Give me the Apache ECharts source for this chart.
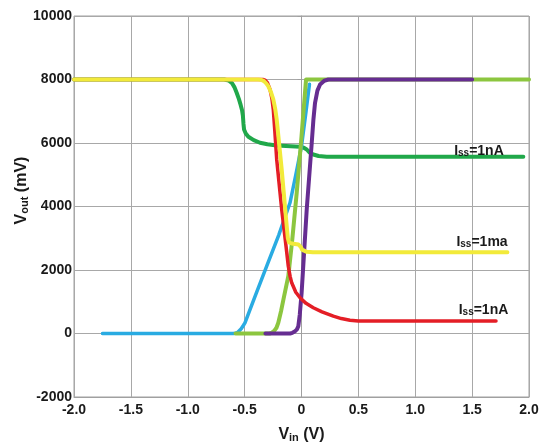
<!DOCTYPE html>
<html>
<head>
<meta charset="utf-8">
<script src="https://cdn.jsdelivr.net/npm/echarts@6/dist/echarts.min.js"></script>
<style>
html,body{margin:0;padding:0;background:#fff;}
#chart{width:545px;height:447px;}
</style>
</head>
<body>
<div id="chart"></div>
<script>
// ---- data (Vin in V, Vout in mV) ----
const blueCurve = [[-1.75,0],[-0.6,0],[-0.58,8],[-0.56,40],[-0.53,150],[-0.51,260],[-0.497,337],[-0.4,1250],[-0.3,2180],[-0.2,3100],[-0.101,4117],[-0.05,5000],[0,5900],[0.04,7000],[0.07,7850]];
const lightGreenCurve = [[-0.58,0],[-0.28,0],[-0.26,25],[-0.24,80],[-0.22,180],[-0.204,337],[-0.18,700],[-0.16,1050],[-0.116,1805],[-0.08,3000],[-0.042,4432],[0,6200],[0.04,8000],[2.0,8000]];
const purpleCurve = [[-0.317,0],[-0.1,0],[-0.08,20],[-0.06,60],[-0.04,130],[-0.028,230],[-0.015,600],[0.001,1281],[0.046,3906],[0.09,6007],[0.105,6750],[0.119,7267],[0.14,7650],[0.163,7843],[0.2,7960],[0.236,8000],[1.5,8000]];
const darkGreenCurve = [[-2.0,8000],[-0.68,8000],[-0.64,7970],[-0.61,7880],[-0.59,7760],[-0.57,7582],[-0.55,7380],[-0.535,7200],[-0.522,7020],[-0.515,6850],[-0.51,6600],[-0.505,6426],[-0.49,6300],[-0.467,6196],[-0.42,6090],[-0.365,6007],[-0.3,5960],[-0.218,5922],[-0.013,5880],[0.02,5850],[0.046,5796],[0.07,5700],[0.104,5638],[0.15,5590],[0.222,5570],[1.95,5570]];
const redCurve = [[-2.0,8000],[-0.34,8000],[-0.32,7980],[-0.3,7900],[-0.277,7686],[-0.26,7400],[-0.248,7056],[-0.235,6400],[-0.218,5481],[-0.174,3906],[-0.136,2750],[-0.116,2120],[-0.1,1800],[-0.086,1597],[-0.05,1300],[-0.013,1124],[0.04,950],[0.104,810],[0.18,680],[0.28,545],[0.35,470],[0.426,419],[0.5,395],[0.55,390],[1.71,390]];
const yellowCurve = [[-2.0,8000],[-0.38,8000],[-0.35,7985],[-0.33,7950],[-0.31,7880],[-0.292,7790],[-0.27,7620],[-0.248,7371],[-0.23,7050],[-0.218,6741],[-0.174,5166],[-0.13,3380],[-0.12,3000],[-0.11,2870],[-0.1,2845],[-0.086,2835],[-0.028,2804],[-0.015,2780],[-0.005,2720],[0.005,2640],[0.02,2600],[0.046,2573],[0.1,2560],[1.81,2560]];

const curveLabels = ['=1nA','=1ma','=1nA'];
const curveLabelPos = [[1.56,5749],[1.587,2882],[1.60,725]];

const xTicks = ['-2.0','-1.5','-1.0','-0.5','0','0.5','1.0','1.5','2.0'];

const chart = echarts.init(document.getElementById('chart'), null, {renderer:'canvas'});

const FONT = 'Liberation Sans, Arial, sans-serif';
const labelRich = {
  b:{fontFamily:FONT,fontSize:14,fontWeight:'bold',color:'#1a1a1a',verticalAlign:'top',lineHeight:14},
  s:{fontFamily:FONT,fontSize:10,fontWeight:'bold',color:'#1a1a1a',verticalAlign:'bottom',lineHeight:10,padding:[7,0,0,0]}
};

function lineSeries(name, data, color, width, z, extra){
  return Object.assign({
    name, type:'line', data, showSymbol:false, symbol:'none',
    smooth:false, z,
    lineStyle:{color, width, cap:'round', join:'round'},
    itemStyle:{color}, animation:false
  }, extra||{});
}

function labelPoint(idx){
  return {
    symbol:'circle', symbolSize:1, silent:true,
    itemStyle:{color:'rgba(0,0,0,0)'},
    label:{show:true, position:'inside', formatter:'{b|I}{s|ss}{b|'+curveLabels[idx]+'}', rich:labelRich},
    data:[{coord:curveLabelPos[idx], name:'lbl'+idx}]
  };
}

const option = {
  backgroundColor:'#ffffff',
  animation:false,
  grid:{left:74, right:16, top:16, bottom:50, show:true, borderColor:'#a0a0a0', borderWidth:1,
        containLabel:false, outerBoundsMode:'none'},
  xAxis:{
    type:'value', min:-2, max:2, interval:0.5,
    axisLine:{onZero:false, lineStyle:{color:'#a0a0a0', width:1}},
    axisTick:{show:false},
    splitLine:{show:true, lineStyle:{color:'#a8a8a8', width:1}},
    axisLabel:{margin:6, color:'#1a1a1a', fontFamily:FONT, fontSize:14, fontWeight:'bold',
      formatter:(v)=>xTicks[Math.round((v+2)/0.5)]},
    name:'{b|V}{s|in}{b| (V)}', nameLocation:'middle', nameGap:30, nameMoveOverlap:false,
    nameTextStyle:{rich:{
      b:{fontFamily:FONT,fontSize:16,fontWeight:'bold',color:'#1a1a1a',verticalAlign:'top',lineHeight:16},
      s:{fontFamily:FONT,fontSize:11,fontWeight:'bold',color:'#1a1a1a',verticalAlign:'bottom',lineHeight:11,padding:[8,0,0,0]}
    }}
  },
  yAxis:{
    type:'value', min:-2000, max:10000, interval:2000,
    axisLine:{show:true, lineStyle:{color:'#a0a0a0', width:1}},
    axisTick:{show:true, length:4, lineStyle:{color:'#a0a0a0'}},
    splitLine:{show:true, lineStyle:{color:'#a8a8a8', width:1}},
    axisLabel:{margin:2, color:'#1a1a1a', fontFamily:FONT, fontSize:14, fontWeight:'bold',
      formatter:(v)=>String(v)},
    name:'{b|V}{s|out}{b| (mV)}', nameLocation:'middle', nameGap:44, nameRotate:90, nameMoveOverlap:false,
    nameTextStyle:{padding:[0,0,0,32], rich:{
      b:{fontFamily:FONT,fontSize:16,fontWeight:'bold',color:'#1a1a1a',verticalAlign:'top',lineHeight:16},
      s:{fontFamily:FONT,fontSize:11,fontWeight:'bold',color:'#1a1a1a',verticalAlign:'bottom',lineHeight:11,padding:[8,0,0,0]}
    }}
  },
  series:[
    lineSeries('darkGreen', darkGreenCurve, '#20a84a', 4, 2, {markPoint:labelPoint(0)}),
    lineSeries('blue', blueCurve, '#29abe2', 3.5, 3),
    lineSeries('lightGreen', lightGreenCurve, '#8cc63f', 4, 4),
    lineSeries('purple', purpleCurve, '#662d91', 4, 5),
    lineSeries('red', redCurve, '#e41e26', 3.5, 6, {markPoint:labelPoint(2)}),
    lineSeries('yellow', yellowCurve, '#f2ea3a', 4, 7, {markPoint:labelPoint(1)})
  ]
};
chart.setOption(option);
</script>
</body>
</html>
